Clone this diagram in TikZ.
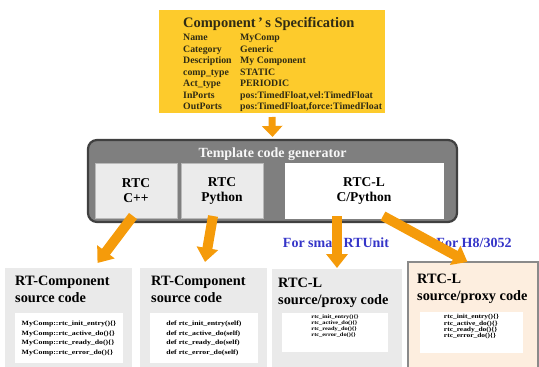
\documentclass[tikz,border=0pt]{standalone}
\usepackage{fontspec}
\setmainfont{Liberation Serif}
\newfontfamily\codefont[FakeStretch=1.2]{Liberation Serif}
\usetikzlibrary{arrows.meta}

\definecolor{specyellow}{HTML}{FDCB2C}
\definecolor{spectext}{HTML}{302C14}
\definecolor{gengray}{HTML}{7F7F7F}
\definecolor{genedge}{HTML}{404040}
\definecolor{cellgray}{HTML}{EBEBEB}
\definecolor{outgray}{HTML}{EAEAEA}
\definecolor{peach}{HTML}{FDEEDF}
\definecolor{peachedge}{HTML}{8A8A8A}
\definecolor{flow}{HTML}{F59B0A}
\definecolor{tagblue}{HTML}{3535C8}

\newcommand{\twolines}[2]{\begin{tabular}[t]{@{}l@{}}#1\\#2\end{tabular}}
\newcommand{\codelines}[4]{\begin{tabular}[t]{@{}l@{}}#1\\#2\\#3\\#4\end{tabular}}

\begin{document}
\begin{tikzpicture}[x=1pt,y=-1pt,
  box/.style={rectangle, inner sep=0pt, outer sep=0pt},
  cell/.style={box, fill=cellgray, draw=gray!55, line width=0.5pt, align=center,
    font=\fontsize{13.5}{15}\selectfont\bfseries},
  outbox/.style={box, fill=outgray},
  codebox/.style={box, fill=white},
  boxtitle/.style={anchor=base west, inner sep=0pt, font=\fontsize{14.3}{17}\selectfont\bfseries},
  flowarrow/.style={draw=flow, line width=10pt, -{Triangle[width=21pt,length=14pt]}},
  tag/.style={inner sep=0pt, text=tagblue, font=\fontsize{14}{16}\selectfont\bfseries}]

\useasboundingbox (0,0) rectangle (539,367);

% component specification
\node[box, fill=specyellow, minimum width=226pt, minimum height=103pt] (spec) at (272,61.5) {};
\node[anchor=base west, inner sep=0pt, text=spectext, font=\fontsize{14.5}{16}\selectfont\bfseries]
  (spectitle) at (183,27) {Component\,’\,s Specification};
\node[anchor=base west, inner sep=0pt, text=spectext, font=\fontsize{9.8}{11.5}\selectfont\bfseries]
  (specrows) at (183,40.5) {\begin{tabular}[t]{@{}p{57pt}@{}l@{}}
    Name & MyComp\\
    Category & Generic\\
    Description & My Component\\
    comp\_type & STATIC\\
    Act\_type & PERIODIC\\
    InPorts & pos:TimedFloat,vel:TimedFloat\\
    OutPorts & pos:TimedFloat,force:TimedFloat
  \end{tabular}};

% template code generator
\node[box, fill=gengray, draw=genedge, line width=2.2pt, rounded corners=9pt,
  minimum width=369pt, minimum height=82pt] (gen) at (272.5,181) {};
\node[inner sep=0pt, text=white!94!gray, font=\fontsize{14}{16}\selectfont\bfseries]
  (gentitle) at (272.5,154) {Template code generator};
\node[cell, minimum width=82pt, minimum height=55pt] (cpp) at (136,190.5) {RTC\\C++};
\node[cell, minimum width=82pt, minimum height=55pt] (py) at (222,190.5) {RTC\\Python};
\node[cell, fill=white, draw=white, minimum width=158pt, minimum height=55pt] (rtcl) at (364,190.5) {RTC-L\\C/Python};

% generated source code
\node[outbox, minimum width=127pt, minimum height=99pt] (out1) at (68.5,317.5) {};
\node[outbox, minimum width=127pt, minimum height=99pt] (out2) at (203.5,317.5) {};
\node[outbox, minimum width=130pt, minimum height=98pt] (out3) at (337,318) {};
\node[box, fill=peach, minimum width=130pt, minimum height=105pt] (out4) at (472.5,314.5) {};
\draw[peachedge, line width=2pt] (out4.south west) |- (out4.north east) -- (out4.south east);

\node[codebox, minimum width=108pt, minimum height=50pt] (code1) at (69,338) {};
\node[codebox, minimum width=108pt, minimum height=50pt] (code2) at (204,338) {};
\node[codebox, minimum width=106pt, minimum height=39pt] (code3) at (335,332.5) {};
\node[codebox, minimum width=103pt, minimum height=41pt] (code4) at (471.5,332.5) {};

\node[boxtitle] (title1) at (15,285) {\twolines{RT-Component}{source code}};
\node[boxtitle] (title2) at (151,285) {\twolines{RT-Component}{source code}};
\node[boxtitle] (title3) at (278,287) {\twolines{RTC-L}{source/proxy code}};
\node[boxtitle] (title4) at (417,283) {\twolines{RTC-L}{source/proxy code}};

\node[inner sep=0pt, font=\codefont\fontsize{6.5}{9.7}\selectfont\bfseries] (lines1) at (code1.center)
  {\begin{tabular}{@{}l@{}}MyComp::rtc\_init\_entry()\{\}\\MyComp::rtc\_active\_do()\{\}\\MyComp::rtc\_ready\_do()\{\}\\MyComp::rtc\_error\_do()\{\}\end{tabular}};
\node[inner sep=0pt, font=\codefont\fontsize{6.5}{9.7}\selectfont\bfseries] (lines2) at (code2.center)
  {\begin{tabular}{@{}l@{}}def rtc\_init\_entry(self)\\def rtc\_active\_do(self)\\def rtc\_ready\_do(self)\\def rtc\_error\_do(self)\end{tabular}};
\node[anchor=north, inner sep=0pt, font=\codefont\fontsize{5.3}{6}\selectfont\bfseries] (lines3) at ([yshift=-1.5pt]code3.north)
  {\codelines{rtc\_init\_entry()\{\}}{rtc\_active\_do()\{\}}{rtc\_ready\_do()\{\}}{rtc\_error\_do()\{\}}};
\node[anchor=north, inner sep=0pt, font=\codefont\fontsize{6.2}{6.4}\selectfont\bfseries] (lines4) at ([yshift=-2pt]code4.north)
  {\codelines{rtc\_init\_entry()\{\}}{rtc\_active\_do()\{\}}{rtc\_ready\_do()\{\}}{rtc\_error\_do()\{\}}};

% target labels
\node[tag] (tagsmall) at (336,243) {For small RTUnit};
\node[tag] (tagh8) at (474,243) {For H8/3052};

% flow arrows
\draw[draw=flow, line width=7pt, -{Triangle[width=20pt,length=11pt]}]
  ([yshift=-4pt]spec.south) -- ([yshift=3pt]gen.north);
\draw[flowarrow] ([xshift=-3pt,yshift=2pt]cpp.south) -- ([xshift=29pt,yshift=5pt]out1.north);
\draw[flowarrow] ([xshift=-9pt,yshift=2pt]py.south) -- ([xshift=1.5pt,yshift=6pt]out2.north);
\draw[flowarrow] ([xshift=-27pt,yshift=2pt]rtcl.south) -- ([yshift=1pt]out3.north);
\draw[flowarrow] ([xshift=19pt,yshift=2pt]rtcl.south) -- ([xshift=-5pt]out4.north);
\end{tikzpicture}
\end{document}
